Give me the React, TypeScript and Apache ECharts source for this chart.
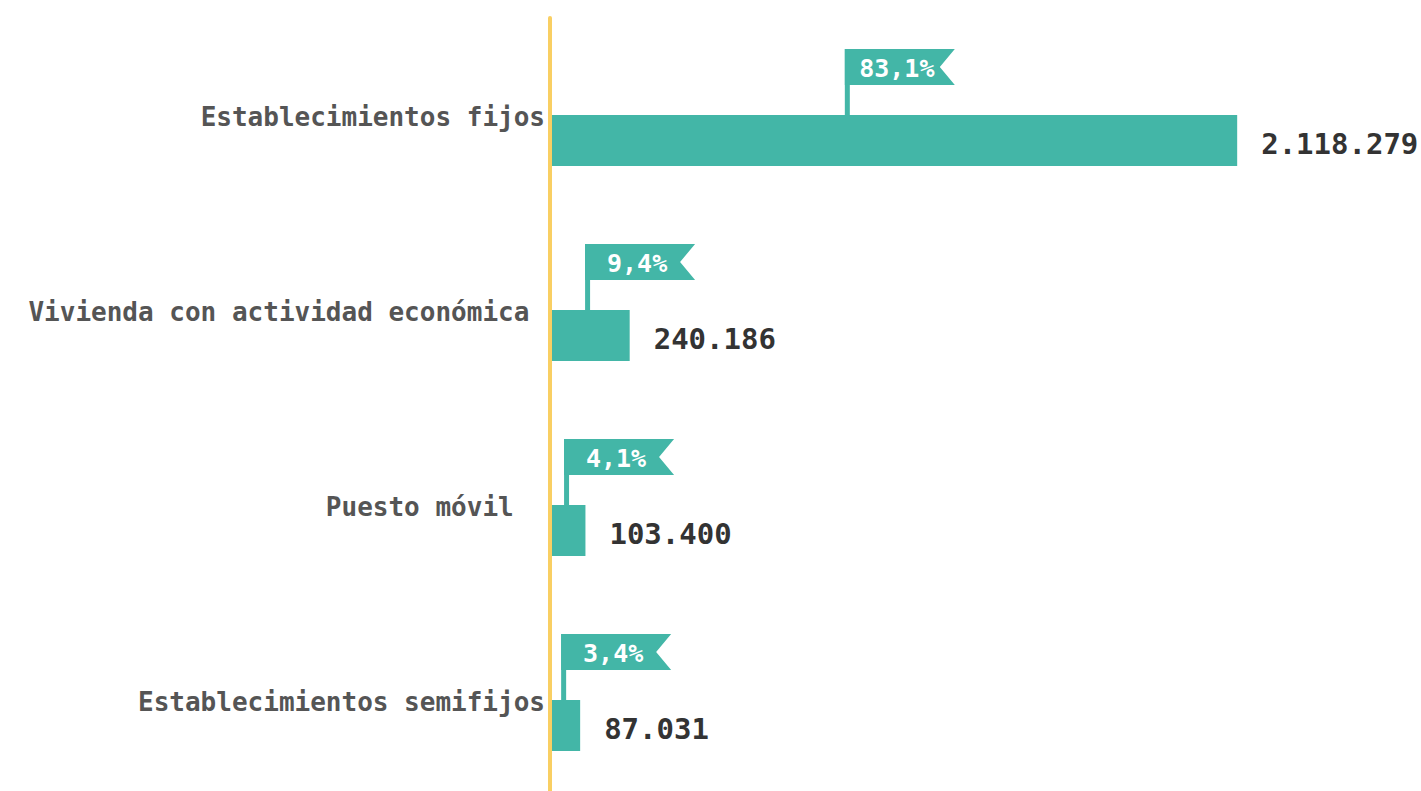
import React, { useEffect, useRef } from "react";
import * as echarts from "echarts";

const categories = [
  "Establecimientos fijos",
  "Vivienda con actividad económica ",
  "Puesto móvil  ",
  "Establecimientos semifijos",
];
const values = [2118279, 240186, 103400, 87031];
const valueLabels = ["2.118.279", "240.186", "103.400", "87.031"];
const shareLabels = ["83,1%", "9,4%", "4,1%", "3,4%"];
// where each flag pole stands, in data units
const flagAnchors = [913000, 110000, 45000, 36000];

const TEAL = "#43b6a7";
const YELLOW = "#f9cf63";
const FONT = "'DejaVu Sans Mono', 'Liberation Mono', monospace";
const BAR_W = 51;

export default function App() {
  const ref = useRef<HTMLDivElement>(null);
  useEffect(() => {
    if (!ref.current) return;
    const chart = echarts.init(ref.current, undefined, { renderer: "svg" });
    const flagData = flagAnchors.map((a, i) => [a, i, shareLabels[i]]);
    chart.setOption({
      animation: false,
      backgroundColor: "#ffffff",
      grid: [
        { left: 552, top: 43, width: 841, height: 780 },
        { left: 550, top: 18, bottom: 0, width: 10 },
      ],
      xAxis: [
        { type: "value", gridIndex: 0, min: 0, max: 2600000, show: false },
        { type: "value", gridIndex: 1, min: 0, max: 1, show: false },
      ],
      yAxis: [
        {
          type: "category",
          gridIndex: 0,
          inverse: true,
          data: categories,
          axisLine: { show: false },
          axisTick: { show: false },
          splitLine: { show: false },
          axisLabel: {
            margin: 7,
            fontSize: 26,
            fontWeight: "bold",
            fontFamily: FONT,
            color: "#555555",
            lineHeight: 47,
            formatter: (v: string) => v + "\n ",
          },
        },
        {
          type: "value",
          gridIndex: 1,
          min: 0,
          max: 1,
          axisLine: { show: true, lineStyle: { color: YELLOW, width: 4 } },
          axisTick: { show: false },
          axisLabel: { show: false },
          splitLine: { show: false },
        },
      ],
      series: [
        {
          type: "bar",
          xAxisIndex: 0,
          yAxisIndex: 0,
          data: values,
          barWidth: BAR_W,
          itemStyle: { color: TEAL },
          label: {
            show: true,
            position: "right",
            distance: 24,
            fontSize: 29,
            fontWeight: "bold",
            fontFamily: FONT,
            color: "#333333",
            offset: [0, 3],
            formatter: (p: any) => valueLabels[p.dataIndex],
          },
        },
        {
          type: "custom",
          xAxisIndex: 0,
          yAxisIndex: 0,
          data: flagData,
          encode: { x: 0, y: 1 },
          renderItem: (params: any, api: any) => {
            const p = api.coord([api.value(0), api.value(1)]);
            const label = shareLabels[params.dataIndex];
            const barTop = p[1] - BAR_W / 2;
            const L = p[0] - 2.5;
            const T = barTop - 66;
            const W = 110;
            const H = 36;
            return {
              type: "group",
              children: [
                {
                  type: "rect",
                  shape: { x: L, y: T, width: 5, height: 66 },
                  style: { fill: TEAL },
                },
                {
                  type: "polygon",
                  shape: {
                    points: [
                      [L, T],
                      [L + W, T],
                      [L + W - 15, T + H / 2],
                      [L + W, T + H],
                      [L, T + H],
                    ],
                  },
                  style: { fill: TEAL },
                },
                {
                  type: "text",
                  x: L + 52,
                  y: T + H / 2 + 1,
                  style: {
                    text: label,
                    fill: "#ffffff",
                    fontSize: 25,
                    fontWeight: "bold",
                    fontFamily: FONT,
                    align: "center",
                    verticalAlign: "middle",
                  },
                },
              ],
            };
          },
        },
      ],
    });
    return () => chart.dispose();
  }, []);
  return (
    <div
      ref={ref}
      style={{ position: "fixed", left: 0, top: 0, width: 1421, height: 830 }}
    />
  );
}
